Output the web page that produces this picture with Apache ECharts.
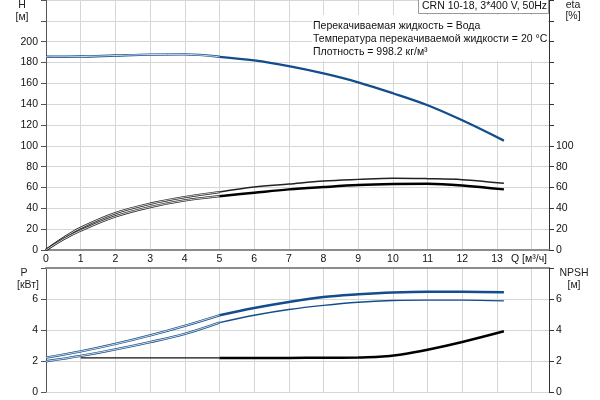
<!DOCTYPE html>
<html><head><meta charset="utf-8">
<script src="https://cdn.jsdelivr.net/npm/echarts@6/dist/echarts.min.js"></script>
<style>html,body{margin:0;padding:0;background:#fff}#c{width:600px;height:400px}</style>
</head><body><div id="c"></div>
<script>
// ---- data ----
const qH   = [0, 1, 2, 3, 4, 5, 6, 7, 8, 9, 10, 11, 12, 13.2];
const headH = [185.5, 185.7, 186.7, 187.6, 187.8, 185.5, 182, 176.5, 169.5, 161, 150.5, 139, 124.5, 105];

const qEta = [0, 0.5, 1, 2, 3, 4, 5, 6, 7, 8, 9, 10, 11, 12, 13.2];
const etaUpper = [0, 11.5, 21.3, 35.4, 44.4, 50.8, 55.6, 60.4, 63.3, 66.2, 67.8, 69, 68.5, 67.5, 64];
const etaLower = [0, 10.3, 18.7, 32.2, 41.2, 47.6, 51.7, 55, 58.2, 60.4, 62.3, 63.3, 63.6, 62, 58.2];

const qP = [0, 1, 2, 3, 4, 5, 6, 7, 8, 9, 10, 11, 12, 13.2];
const powerP1 = [2.22, 2.62, 3.1, 3.65, 4.27, 4.95, 5.42, 5.81, 6.13, 6.3, 6.42, 6.47, 6.47, 6.43];
const powerP2 = [1.98, 2.33, 2.75, 3.22, 3.75, 4.48, 4.95, 5.32, 5.59, 5.79, 5.9, 5.93, 5.93, 5.88];

const qNPSH = [1, 2, 3, 4, 5, 6, 7, 8, 9, 9.6, 10.2, 11, 12, 13.2];
const npsh = [2.2, 2.2, 2.2, 2.2, 2.2, 2.2, 2.2, 2.21, 2.23, 2.27, 2.41, 2.73, 3.23, 3.92];

const xTicksShown = 13;
const hLabelMax = 200, etaLabelMax = 100, pLabelMax = 6;
const seriesLabels = ['P1', 'P2'];
const titleText = 'CRN 10-18, 3*400 V, 50Hz';
const infoLines = ['Перекачиваемая жидкость = Вода', 'Температура перекачиваемой жидкости = 20 °C', 'Плотность = 998.2 кг/м³'];

// ---- chart ----
const FONT = 'Liberation Sans, Arial, sans-serif';
const FS = 10.5;
const BLUE = '#134d8c';
const GRIDC = '#d6d6d6';
function pts(q, v, from, to) { return q.map((x, i) => [x, v[i]]).filter(p => p[0] >= from && p[0] <= to); }

function lineS(data, color, width, xi, yi, extra) {
  return Object.assign({
    type: 'line', data: data, xAxisIndex: xi, yAxisIndex: yi,
    showSymbol: false, symbol: 'none', smooth: 0.35,
    lineStyle: { color: color, width: width }, silent: true, animation: false
  }, extra || {});
}
function hollow(data, color, xi, yi) {
  return [lineS(data, color, 2.4, xi, yi), lineS(data, '#ffffff', 0.8, xi, yi)];
}

const series = [];
// H
series.push(...hollow(pts(qH, headH, 0, 5), BLUE, 0, 0));
series.push(lineS(pts(qH, headH, 5, 99), BLUE, 2.3, 0, 0));
// eta
series.push(...hollow(pts(qEta, etaUpper, 0, 5), '#222', 0, 1));
series.push(...hollow(pts(qEta, etaLower, 0, 5), '#222', 0, 1));
series.push(lineS(pts(qEta, etaUpper, 5, 99), '#222', 1.5, 0, 1));
series.push(lineS(pts(qEta, etaLower, 5, 99), '#000', 2.5, 0, 1));
// P
series.push(...hollow(pts(qP, powerP1, 0, 5), BLUE, 1, 2));
series.push(...hollow(pts(qP, powerP2, 0, 5), BLUE, 1, 2));
const p1d = pts(qP, powerP1, 5, 99), p2d = pts(qP, powerP2, 5, 99);
p1d[p1d.length - 1] = { value: p1d[p1d.length - 1], label: { show: true, formatter: seriesLabels[0], position: 'top', offset: [-10, 1], color: BLUE, fontSize: FS, fontFamily: FONT } };
p2d[p2d.length - 1] = { value: p2d[p2d.length - 1], label: { show: true, formatter: seriesLabels[1], position: 'bottom', offset: [-10, -1], color: BLUE, fontSize: FS, fontFamily: FONT } };
series.push(lineS(p1d, BLUE, 2.5, 1, 2));
series.push(lineS(p2d, BLUE, 1.4, 1, 2));
// NPSH
series.push(lineS(pts(qNPSH, npsh, 0, 5), '#111', 1.1, 1, 3));
series.push(lineS(pts(qNPSH, npsh, 5, 99), '#000', 2.5, 1, 3));

const axLabel = { color: '#111', fontSize: FS, fontFamily: FONT };
const F = FS + 'px ' + FONT;

const option = {
  animation: false,
  backgroundColor: '#fff',
  grid: [
    { left: 46, right: 51, top: 0, height: 250 },
    { left: 46, right: 51, top: 268, height: 124 }
  ],
  xAxis: [
    { gridIndex: 0, type: 'value', min: 0, max: 14.5, interval: 1, position: 'bottom',
      axisLine: { show: true, onZero: false, lineStyle: { color: '#8c8c8c', width: 2 } },
      axisTick: { show: false },
      axisLabel: Object.assign({ margin: 4, formatter: v => (v <= xTicksShown && Number.isInteger(v)) ? String(v) : '' }, axLabel),
      splitLine: { show: true, lineStyle: { color: GRIDC, width: 1 } } },
    { gridIndex: 1, type: 'value', min: 0, max: 14.5, interval: 1, position: 'top',
      axisLine: { show: true, onZero: false, lineStyle: { color: '#8c8c8c', width: 2 } },
      axisTick: { show: false }, axisLabel: { show: false },
      splitLine: { show: true, lineStyle: { color: GRIDC, width: 1 } } }
  ],
  yAxis: [
    { gridIndex: 0, type: 'value', min: 0, max: 240, interval: 20, position: 'left',
      axisLine: { show: true, lineStyle: { color: '#555', width: 1 } },
      axisTick: { show: true, length: 5, lineStyle: { color: '#555' } },
      axisLabel: Object.assign({ margin: 8, formatter: v => v <= hLabelMax ? String(v) : '' }, axLabel),
      splitLine: { show: true, lineStyle: { color: GRIDC, width: 1 } } },
    { gridIndex: 0, type: 'value', min: 0, max: 240, interval: 20, position: 'right',
      axisLine: { show: true, lineStyle: { color: '#333', width: 1 } },
      axisTick: { show: true, length: 5, lineStyle: { color: '#333' } },
      axisLabel: Object.assign({ margin: 7, formatter: v => v <= etaLabelMax ? String(v) : '' }, axLabel),
      splitLine: { show: false } },
    { gridIndex: 1, type: 'value', min: 0, max: 8, interval: 2, position: 'left',
      axisLine: { show: true, lineStyle: { color: '#555', width: 1 } },
      axisTick: { show: true, length: 5, lineStyle: { color: '#555' } },
      axisLabel: Object.assign({ margin: 8, formatter: v => v <= pLabelMax ? String(v) : '' }, axLabel),
      splitLine: { show: true, lineStyle: { color: GRIDC, width: 1 } } },
    { gridIndex: 1, type: 'value', min: 0, max: 8, interval: 2, position: 'right',
      axisLine: { show: true, lineStyle: { color: '#333', width: 1 } },
      axisTick: { show: true, length: 5, lineStyle: { color: '#333' } },
      axisLabel: Object.assign({ margin: 7, formatter: v => v <= pLabelMax ? String(v) : '' }, axLabel),
      splitLine: { show: false } }
  ],
  graphic: [
    { type: 'rect', z: 50, shape: { x: 312, y: 15, width: 236, height: 46 }, style: { fill: '#fff' } },
    { type: 'rect', z: 50, shape: { x: 418.5, y: -2, width: 130, height: 15.5 }, style: { fill: '#fff', stroke: '#999', lineWidth: 1 } },
    { type: 'text', z: 51, x: 422, y: 6.5, style: { text: titleText, fill: '#111', font: F, verticalAlign: 'middle' } },
    { type: 'text', z: 51, x: 313, y: 26, style: { text: infoLines[0], fill: '#111', font: F, verticalAlign: 'middle' } },
    { type: 'text', z: 51, x: 313, y: 39, style: { text: infoLines[1], fill: '#111', font: F, verticalAlign: 'middle' } },
    { type: 'text', z: 51, x: 313, y: 52, style: { text: infoLines[2], fill: '#111', font: F, verticalAlign: 'middle' } },
    { type: 'text', z: 51, x: 22, y: 5, style: { text: 'H', fill: '#222', font: F, align: 'center', verticalAlign: 'middle' } },
    { type: 'text', z: 51, x: 22, y: 17, style: { text: '[м]', fill: '#222', font: F, align: 'center', verticalAlign: 'middle' } },
    { type: 'text', z: 51, x: 573, y: 5, style: { text: 'eta', fill: '#222', font: F, align: 'center', verticalAlign: 'middle' } },
    { type: 'text', z: 51, x: 573, y: 16.5, style: { text: '[%]', fill: '#222', font: F, align: 'center', verticalAlign: 'middle' } },
    { type: 'text', z: 51, x: 511, y: 259, style: { text: 'Q [м³/ч]', fill: '#111', font: F, verticalAlign: 'middle' } },
    { type: 'text', z: 51, x: 24, y: 273, style: { text: 'P', fill: '#222', font: F, align: 'center', verticalAlign: 'middle' } },
    { type: 'text', z: 51, x: 28, y: 285, style: { text: '[кВт]', fill: '#222', font: F, align: 'center', verticalAlign: 'middle' } },
    { type: 'text', z: 51, x: 574, y: 273, style: { text: 'NPSH', fill: '#222', font: F, align: 'center', verticalAlign: 'middle' } },
    { type: 'text', z: 51, x: 574, y: 285, style: { text: '[м]', fill: '#222', font: F, align: 'center', verticalAlign: 'middle' } }
  ],
  series: series
};
const chart = echarts.init(document.getElementById('c'), null, { renderer: 'canvas' });
chart.setOption(option);
</script>
</body></html>
